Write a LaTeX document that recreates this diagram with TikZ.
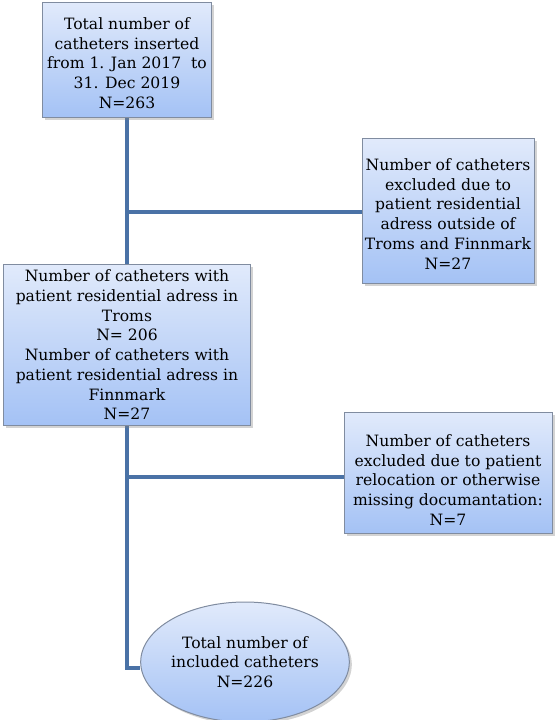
\documentclass[tikz,border=0pt]{standalone}
\usepackage{fontspec}
\setmainfont{DejaVu Serif}
\usetikzlibrary{shapes.geometric,shadows,backgrounds}
\definecolor{boxtop}{RGB}{225,234,251}
\definecolor{boxbot}{RGB}{164,194,245}
\definecolor{boxborder}{RGB}{128,140,160}
\definecolor{linkcol}{RGB}{74,114,166}
\begin{document}
\begin{tikzpicture}[x=1pt,y=-1pt,
  flowbox/.style={rectangle, draw=boxborder, line width=1pt, top color=boxtop, bottom color=boxbot,
    drop shadow={shadow xshift=2.5pt,shadow yshift=-2.5pt,opacity=0.35}, inner sep=0pt},
  boxtext/.style={align=center, font=\fontsize{15.6}{19.7}\selectfont, inner sep=0pt},
  endoval/.style={ellipse, draw=boxborder, line width=1pt, top color=boxtop, bottom color=boxbot,
    drop shadow={shadow xshift=2.5pt,shadow yshift=-2.5pt,opacity=0.35}, inner sep=0pt,
    align=center, font=\fontsize{15.6}{19.7}\selectfont},
  link/.style={draw=linkcol, line width=4.5pt}]
\useasboundingbox (0,0) rectangle (557,720);

\node[flowbox, minimum width=169pt, minimum height=115pt] (b1) at (127,59.5) {};
\node[boxtext] (t1) at (127,63) {Total number of\\catheters inserted\\from 1. Jan 2017\ \ to\\31. Dec 2019\\N=263};

\node[flowbox, minimum width=172pt, minimum height=145pt] (b3) at (448,210.5) {};
\node[boxtext] (t3) at (448,214) {Number of catheters\\excluded due to\\patient residential\\adress outside of\\Troms and Finnmark\\N=27};

\node[flowbox, minimum width=247pt, minimum height=161pt] (b2) at (127,344.5) {};
\node[boxtext] (t2) at (127,345) {Number of catheters with\\patient residential adress in\\Troms\\N= 206\\Number of catheters with\\patient residential adress in\\Finnmark\\N=27};

\node[flowbox, minimum width=208pt, minimum height=121pt] (b4) at (448,472.5) {};
\node[boxtext] (t4) at (448,480) {Number of catheters\\excluded due to patient\\relocation or otherwise\\missing documantation:\\N=7};

\node[endoval, minimum width=206pt, minimum height=120pt] (ell) at (245,662) {Total number of\\included catheters\\N=226};

\begin{scope}[on background layer]
\draw[link] (b1.south) -- (b1.south |- b2.north);
\draw[link] ([yshift=-1.5pt]b3.west) -- ([yshift=-1.5pt]b3.west -| b1.south);
\draw[link] (b2.south) |- ([yshift=-6pt]ell.west);
\draw[link] ([yshift=-4.5pt]b4.west) -- ([yshift=-4.5pt]b4.west -| b2.south);
\end{scope}
\end{tikzpicture}
\end{document}
